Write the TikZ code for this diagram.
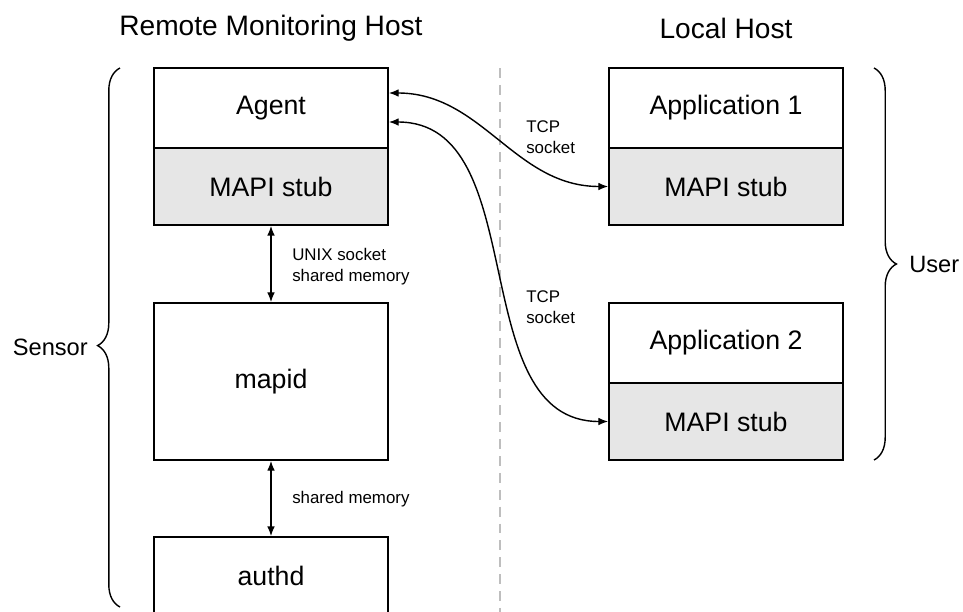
\documentclass[tikz,border=0pt]{standalone}
\usepackage{fontspec}
\setmainfont{Liberation Sans}
\usetikzlibrary{arrows.meta, positioning, decorations.pathreplacing}
\definecolor{stubgray}{RGB}{230,230,230}
\definecolor{sepgray}{RGB}{190,190,190}

\begin{document}
\begin{tikzpicture}[x=0.025cm, y=-0.025cm, >={Latex[length=7pt, width=5.5pt]},
    every node/.style={font=\fontsize{19}{23}\selectfont},
    hostbox/.style={draw, line width=1.2pt, minimum width=5.85cm, minimum height=2cm, inner sep=0pt},
    stubbox/.style={hostbox, fill=stubgray, minimum height=1.925cm},
    lbl/.style={font=\fontsize{12}{15}\selectfont, align=left, anchor=west, inner sep=0pt},
    side/.style={font=\fontsize{16.8}{20}\selectfont, inner sep=0pt},
    link/.style={<->, line width=1pt},
    brc/.style={decorate, decoration={brace, amplitude=0.56cm}, line width=1pt}]
    \useasboundingbox (0,0) rectangle (963,612);
    % titles
    \node (rtitle) at (271,28) {\fontsize{20}{24}\selectfont Remote Monitoring Host};
    \node (ltitle) at (726,28) {\fontsize{20}{24}\selectfont Local Host};
    \draw[sepgray, dash pattern=on 7pt off 5pt, line width=1pt] (500,68) -- (500,612);
    % remote side
    \node[hostbox] (agent) at (271,108) {Agent};
    \node[stubbox] (stubA) at (271,186.5) {MAPI stub};
    \node[hostbox, minimum height=3.925cm] (mapid) at (271,381.5) {mapid};
    \node[hostbox, minimum height=1.95cm] (authd) at (271,576) {authd};
    % local side
    \node[hostbox] (app1) at (726,108) {Application 1};
    \node[stubbox] (stub1) at (726,186.5) {MAPI stub};
    \node[hostbox] (app2) at (726,343) {Application 2};
    \node[stubbox] (stub2) at (726,421.5) {MAPI stub};
    % links
    \draw[link] (stubA.south) -- (mapid.north);
    \node[lbl] (unix) at (292,267) {UNIX socket\\shared memory};
    \draw[link] (mapid.south) -- (authd.north);
    \node[lbl] (shm) at (292,499) {shared memory};
    \coordinate (tcpa) at ([yshift=0.375cm]agent.east);
    \coordinate (tcpb) at ([yshift=-0.35cm]agent.east);
    \draw[link] (tcpa) to[out=0, in=180] (stub1.west);
    \draw[link] (tcpb) to[out=0, in=180] (stub2.west);
    \node[lbl] (tcp1) at (526,137) {TCP\\socket};
    \node[lbl] (tcp2) at (526,307) {TCP\\socket};
    % braces
    \coordinate (sbot) at (120,607);
    \coordinate (stop) at (120,68);
    \draw[brc, decoration={aspect=0.485}] (sbot) -- (stop);
    \node[side, anchor=east] (sensor) at (88,347) {Sensor};
    \coordinate (utop) at (874,68);
    \coordinate (ubot) at (874,460);
    \draw[brc] (utop) -- (ubot);
    \node[side, anchor=west] (user) at (909,264) {User};
\end{tikzpicture}
\end{document}
